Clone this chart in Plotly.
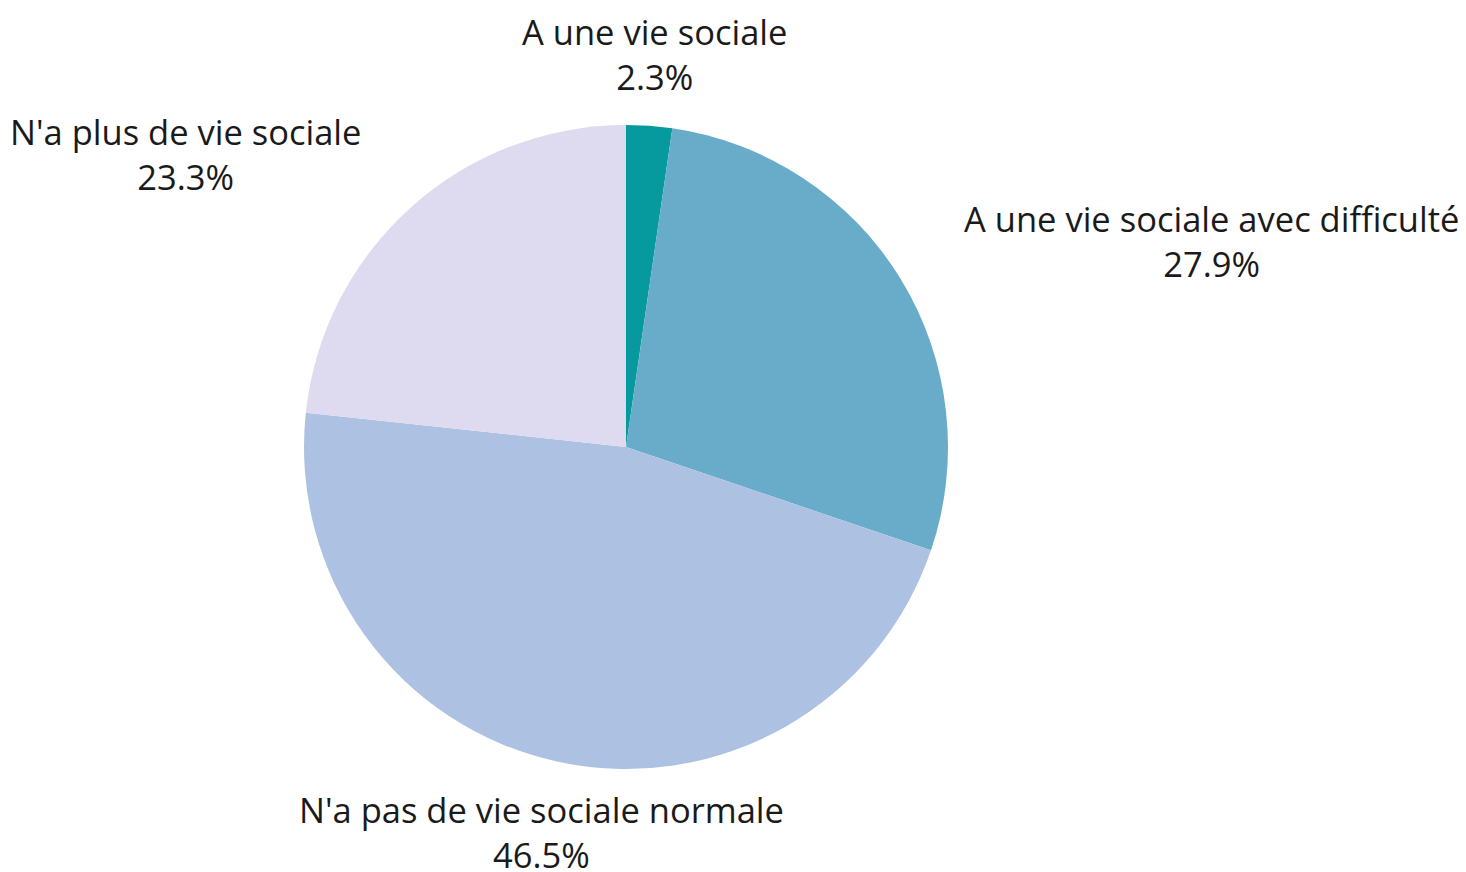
import math
import plotly.graph_objects as go

labels = ["A une vie sociale", "A une vie sociale avec difficulté",
          "N'a pas de vie sociale normale", "N'a plus de vie sociale"]
values = [2.3, 27.9, 46.5, 23.3]
colors = ["#06999d", "#68acc9", "#adc1e3", "#dedaf0"]

OFF = 8  # default page body margin
W, H = 1466 - 2 * OFF, 872
# pie geometry (pixels in the photographed page)
CX, CY, R = 626, 447, 322
LABEL_R = 394
FONT = dict(family="Open Sans", size=34.5, color="#1a1a1a")

dom_x = [(CX - R - OFF) / W, (CX + R - OFF) / W]
dom_y = [1 - (CY + R - OFF) / H, 1 - (CY - R - OFF) / H]

fig = go.Figure(go.Pie(
    labels=labels,
    values=values,
    sort=False,
    direction="clockwise",
    rotation=0,
    marker=dict(colors=colors, line=dict(width=0)),
    textinfo="none",
    showlegend=False,
    hoverinfo="label+percent",
    domain=dict(x=dom_x, y=dom_y),
))

total = sum(values)
cum = 0.0
for lab, v in zip(labels, values):
    mid = math.radians((cum + v / 2) / total * 360)
    cum += v
    s, c = math.sin(mid), math.cos(mid)
    px = CX + LABEL_R * s
    py = CY - LABEL_R * c
    xanchor = "center" if abs(s) < 0.5 else ("left" if s > 0 else "right")
    fig.add_annotation(
        x=(px - OFF) / W, y=1 - (py - OFF) / H,
        xref="paper", yref="paper",
        text=f"{lab}<br>{v:.1f}%", showarrow=False, align="center",
        xanchor=xanchor, yanchor="middle",
        font=FONT,
    )

fig.update_layout(
    width=W, height=H,
    margin=dict(l=0, r=0, t=0, b=0),
    paper_bgcolor="white",
    font=dict(family="Open Sans"),
)
fig.write_html("out.html")
